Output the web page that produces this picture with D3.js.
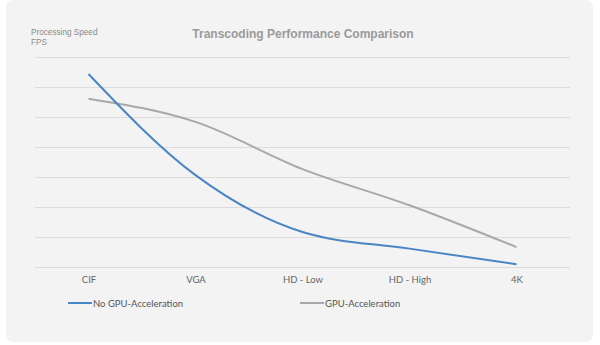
<!DOCTYPE html>
<html>
<head>
<meta charset="utf-8">
<script src="https://cdn.jsdelivr.net/npm/d3@7"></script>
<style>
  body { margin: 0; background: #fff; }
</style>
</head>
<body>
<svg id="chart" width="600" height="345"></svg>
<script>
// data
const categories = ["CIF", "VGA", "HD - Low", "HD - High", "4K"];
const noGpu = [6.42, 3.06, 1.17, 0.62, 0.1];
const gpu = [5.6, 4.83, 3.26, 2.06, 0.67];
const seriesNames = ["No GPU-Acceleration", "GPU-Acceleration"];
const gridTicks = [0, 1, 2, 3, 4, 5, 6, 7];

const svg = d3.select("#chart");

// card background
svg.append("rect")
    .attr("x", 6).attr("y", 0)
    .attr("width", 587).attr("height", 342)
    .attr("rx", 7)
    .attr("fill", "#f3f3f3");

const xscale = d3.scalePoint()
    .domain(categories)
    .range([35, 570])
    .padding(0.5);

const yscale = d3.scaleLinear()
    .domain([0, 7])
    .range([267.3, 56.5]);

// gridlines
svg.append("g").selectAll("line")
    .data(gridTicks)
    .join("line")
    .attr("x1", 35).attr("x2", 570)
    .attr("y1", d => Math.round(yscale(d)) + 0.5)
    .attr("y2", d => Math.round(yscale(d)) + 0.5)
    .attr("stroke", "#dcdcdc")
    .attr("stroke-width", 1);

// x axis labels
const xaxis = d3.axisBottom(xscale).tickSize(0).tickPadding(0);
const gx = svg.append("g")
    .attr("transform", "translate(0,276)")
    .call(xaxis);
gx.select(".domain").remove();
gx.selectAll("text")
    .attr("font-family", "Lato, 'Open Sans', sans-serif")
    .attr("font-size", "9.5px")
    .attr("fill", "#666");

const line = d3.line()
    .x((d, i) => xscale(categories[i]))
    .y(d => yscale(d))
    .curve(d3.curveMonotoneX);

svg.append("path")
    .attr("d", line(gpu))
    .attr("fill", "none")
    .attr("stroke", "#a8a8a8")
    .attr("stroke-width", 2);

svg.append("path")
    .attr("d", line(noGpu))
    .attr("fill", "none")
    .attr("stroke", "#4a86c4")
    .attr("stroke-width", 2);

// title
svg.append("text")
    .attr("x", 303).attr("y", 38)
    .attr("text-anchor", "middle")
    .attr("font-family", "'Liberation Sans', Arial, sans-serif")
    .attr("font-weight", "bold")
    .attr("font-size", "12px")
    .attr("fill", "#9a9a9a")
    .text("Transcoding Performance Comparison");

// y axis title
svg.append("text")
    .attr("x", 31).attr("y", 35)
    .attr("font-family", "'Liberation Sans', Arial, sans-serif")
    .attr("font-size", "8.2px")
    .attr("fill", "#8a8a8a")
    .text("Processing Speed");
svg.append("text")
    .attr("x", 31).attr("y", 44.5)
    .attr("font-family", "'Liberation Sans', Arial, sans-serif")
    .attr("font-size", "8.2px")
    .attr("fill", "#8a8a8a")
    .text("FPS");

// legend
const legendColors = ["#4a86c4", "#a8a8a8"];
const legendX = [68, 300];
seriesNames.forEach((name, i) => {
    svg.append("line")
        .attr("x1", legendX[i]).attr("x2", legendX[i] + 24)
        .attr("y1", 303).attr("y2", 303)
        .attr("stroke", legendColors[i])
        .attr("stroke-width", 2);
    svg.append("text")
        .attr("x", legendX[i] + 25).attr("y", 306.5)
        .attr("font-family", "Lato, 'Open Sans', sans-serif")
        .attr("font-size", "9.5px")
        .attr("fill", "#555")
        .text(name);
});
</script>
</body>
</html>
